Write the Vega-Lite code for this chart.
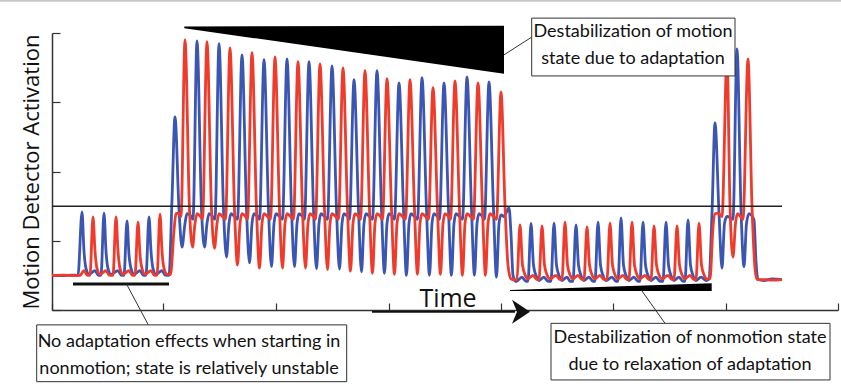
{
  "$schema": "https://vega.github.io/schema/vega-lite/v6.json",
  "width": 786,
  "height": 277,
  "autosize": {"type": "none"},
  "padding": {"left": 52, "top": 33, "right": 3, "bottom": 74},
  "background": "white",
  "config": {"view": {"stroke": null}},
  "datasets": {
    "blue": [
      {"t":0,"v":1.0},{"t":10,"v":0.99},{"t":20,"v":1.01},{"t":26,"v":1.0},{"t":30,"v":2.83},{"t":32,"v":1.7},{"t":34,"v":1.2},{"t":37,"v":1.03},{"t":43,"v":1.14},{"t":46,"v":1.01},{"t":49,"v":1.0},
      {"t":52,"v":2.80},{"t":54,"v":1.7},{"t":56,"v":1.2},{"t":59,"v":1.03},{"t":66,"v":1.14},{"t":69,"v":1.01},{"t":72,"v":1.0},
      {"t":75,"v":2.57},{"t":77,"v":1.6},{"t":79,"v":1.2},{"t":82,"v":1.03},{"t":88,"v":1.14},{"t":91,"v":1.01},{"t":94,"v":1.0},
      {"t":97,"v":2.69},{"t":99,"v":1.7},{"t":101,"v":1.2},{"t":104,"v":1.03},{"t":110,"v":1.14},{"t":113,"v":1.01},{"t":117,"v":1.0},
      {"t":120,"v":3.2},{"t":123,"v":5.58},{"t":127,"v":2.9},{"t":130,"v":1.82},{"t":133,"v":2.5},{"t":135,"v":2.78},{"t":138,"v":2.75},{"t":141,"v":2.62},
      {"t":145,"v":7.77},{"t":149.5,"v":2.9},{"t":152.5,"v":1.82},{"t":155,"v":2.5},{"t":157,"v":2.78},{"t":160,"v":2.72},{"t":163,"v":2.62},
      {"t":167,"v":7.69},{"t":171.5,"v":2.9},{"t":174.5,"v":1.53},{"t":177,"v":2.5},{"t":179,"v":2.78},{"t":182,"v":2.72},{"t":185.5,"v":2.62},
      {"t":190,"v":7.37},{"t":194.5,"v":2.9},{"t":197.5,"v":1.36},{"t":200,"v":2.5},{"t":202,"v":2.78},{"t":205,"v":2.72},{"t":207.5,"v":2.62},
      {"t":212,"v":7.23},{"t":216.5,"v":2.9},{"t":219.5,"v":1.25},{"t":222,"v":2.5},{"t":224,"v":2.78},{"t":227,"v":2.72},{"t":230.5,"v":2.62},
      {"t":235,"v":7.25},{"t":239.5,"v":2.9},{"t":242.5,"v":1.25},{"t":245,"v":2.5},{"t":247,"v":2.78},{"t":250,"v":2.72},{"t":252.5,"v":2.62},
      {"t":257,"v":7.17},{"t":261.5,"v":2.9},{"t":264.5,"v":1.19},{"t":267,"v":2.5},{"t":269,"v":2.78},{"t":272,"v":2.72},{"t":275.5,"v":2.62},
      {"t":280,"v":7.05},{"t":284.5,"v":2.9},{"t":287.5,"v":1.18},{"t":290,"v":2.5},{"t":292,"v":2.78},{"t":295,"v":2.72},{"t":297.5,"v":2.62},
      {"t":302,"v":6.65},{"t":306.5,"v":2.9},{"t":309.5,"v":1.10},{"t":312,"v":2.5},{"t":314,"v":2.78},{"t":317,"v":2.72},{"t":320.5,"v":2.62},
      {"t":325,"v":6.91},{"t":329.5,"v":2.9},{"t":332.5,"v":1.06},{"t":335,"v":2.5},{"t":337,"v":2.78},{"t":340,"v":2.72},{"t":342.5,"v":2.62},
      {"t":347,"v":6.56},{"t":351.5,"v":2.9},{"t":354.5,"v":1.0},{"t":357,"v":2.5},{"t":359,"v":2.78},{"t":362,"v":2.72},{"t":365.5,"v":2.62},
      {"t":370,"v":6.71},{"t":374.5,"v":2.9},{"t":377.5,"v":1.0},{"t":380,"v":2.5},{"t":382,"v":2.78},{"t":385,"v":2.72},{"t":387.5,"v":2.62},
      {"t":392,"v":6.56},{"t":396.5,"v":2.9},{"t":399.5,"v":1.0},{"t":402,"v":2.5},{"t":404,"v":2.78},{"t":407,"v":2.72},{"t":410.5,"v":2.62},
      {"t":415,"v":6.73},{"t":419.5,"v":2.9},{"t":422.5,"v":1.0},{"t":425,"v":2.5},{"t":427,"v":2.78},{"t":430,"v":2.72},{"t":432.5,"v":2.62},
      {"t":437,"v":6.59},{"t":441.5,"v":2.9},{"t":444.5,"v":0.95},{"t":447,"v":2.5},{"t":449,"v":2.75},{"t":452,"v":2.7},{"t":454,"v":2.8},{"t":457,"v":2.95},{"t":459,"v":2.2},{"t":461,"v":1.0},{"t":464,"v":0.82},
      {"t":470,"v":0.95},{"t":474,"v":0.83},{"t":476,"v":0.83},{"t":479,"v":2.5},{"t":481.5,"v":1.3},{"t":484,"v":1.0},{"t":487,"v":0.85},{"t":492,"v":0.95},{"t":496,"v":0.83},
      {"t":499,"v":0.83},{"t":502,"v":2.51},{"t":504.5,"v":1.3},{"t":507,"v":1.0},{"t":510,"v":0.85},{"t":515,"v":0.95},{"t":518,"v":0.83},
      {"t":521,"v":0.83},{"t":524,"v":2.46},{"t":526.5,"v":1.3},{"t":529,"v":1.0},{"t":532,"v":0.85},{"t":537,"v":0.95},{"t":541,"v":0.83},
      {"t":543,"v":0.83},{"t":546,"v":2.54},{"t":548.5,"v":1.3},{"t":551,"v":1.0},{"t":554,"v":0.85},{"t":560,"v":0.95},{"t":564,"v":0.83},
      {"t":566,"v":0.83},{"t":569,"v":2.66},{"t":571.5,"v":1.3},{"t":574,"v":1.0},{"t":577,"v":0.85},{"t":582,"v":0.95},{"t":586,"v":0.83},
      {"t":588,"v":0.83},{"t":591,"v":2.54},{"t":593.5,"v":1.3},{"t":596,"v":1.0},{"t":599,"v":0.85},{"t":604,"v":0.95},{"t":608,"v":0.83},
      {"t":611,"v":0.83},{"t":614,"v":2.54},{"t":616.5,"v":1.3},{"t":619,"v":1.0},{"t":622,"v":0.85},{"t":627,"v":0.95},{"t":631,"v":0.83},
      {"t":633,"v":0.83},{"t":636,"v":2.60},{"t":638.5,"v":1.3},{"t":641,"v":1.0},{"t":644,"v":0.85},{"t":649,"v":0.95},{"t":654,"v":0.85},
      {"t":657,"v":0.9},{"t":660,"v":2.8},{"t":663,"v":5.40},{"t":667,"v":2.8},{"t":670,"v":1.21},{"t":672.5,"v":2.5},{"t":675,"v":2.7},{"t":679,"v":2.65},{"t":681,"v":2.62},
      {"t":685,"v":7.54},{"t":689,"v":2.9},{"t":692,"v":1.25},{"t":694.5,"v":2.5},{"t":697,"v":2.78},{"t":700,"v":2.72},{"t":702,"v":2.6},{"t":704,"v":1.4},{"t":706,"v":0.88},
      {"t":712,"v":0.85},{"t":720,"v":0.9},{"t":730,"v":0.88}
    ],
    "red": [
      {"t":0,"v":1.0},{"t":12,"v":1.01},{"t":22,"v":0.99},{"t":28,"v":1.0},{"t":32,"v":1.14},{"t":35,"v":1.01},{"t":38,"v":1.0},
      {"t":41,"v":2.69},{"t":43,"v":1.7},{"t":45,"v":1.2},{"t":48,"v":1.03},{"t":54,"v":1.14},{"t":57,"v":1.01},{"t":61,"v":1.0},
      {"t":64,"v":2.69},{"t":66,"v":1.7},{"t":68,"v":1.2},{"t":71,"v":1.03},{"t":77,"v":1.14},{"t":80,"v":1.01},{"t":83,"v":1.0},
      {"t":86,"v":2.54},{"t":88,"v":1.6},{"t":90,"v":1.2},{"t":93,"v":1.03},{"t":99,"v":1.14},{"t":102,"v":1.01},{"t":105,"v":1.0},
      {"t":108,"v":2.77},{"t":110,"v":1.7},{"t":112,"v":1.2},{"t":115,"v":1.03},{"t":118,"v":1.02},
      {"t":119,"v":1.1},{"t":122,"v":2.3},{"t":124,"v":2.78},{"t":126,"v":2.8},{"t":129,"v":2.7},
      {"t":133,"v":7.80},{"t":137.5,"v":2.9},{"t":140.5,"v":1.82},{"t":143,"v":2.5},{"t":145,"v":2.78},{"t":148,"v":2.72},{"t":150.5,"v":2.62},
      {"t":155,"v":7.75},{"t":159.5,"v":2.9},{"t":162.5,"v":1.78},{"t":165,"v":2.5},{"t":167,"v":2.78},{"t":170,"v":2.72},{"t":173.5,"v":2.62},
      {"t":178,"v":7.57},{"t":182.5,"v":2.9},{"t":185.5,"v":1.30},{"t":188,"v":2.5},{"t":190,"v":2.78},{"t":193,"v":2.72},{"t":195.5,"v":2.62},
      {"t":200,"v":7.43},{"t":204.5,"v":2.9},{"t":207.5,"v":1.21},{"t":210,"v":2.5},{"t":212,"v":2.78},{"t":215,"v":2.72},{"t":218.5,"v":2.62},
      {"t":223,"v":7.31},{"t":227.5,"v":2.9},{"t":230.5,"v":1.21},{"t":233,"v":2.5},{"t":235,"v":2.78},{"t":238,"v":2.72},{"t":241.5,"v":2.62},
      {"t":246,"v":7.17},{"t":250.5,"v":2.9},{"t":253.5,"v":1.21},{"t":256,"v":2.5},{"t":258,"v":2.78},{"t":261,"v":2.72},{"t":263.5,"v":2.62},
      {"t":268,"v":7.11},{"t":272.5,"v":2.9},{"t":275.5,"v":1.17},{"t":278,"v":2.5},{"t":280,"v":2.78},{"t":283,"v":2.72},{"t":286.5,"v":2.62},
      {"t":291,"v":6.99},{"t":295.5,"v":2.9},{"t":298.5,"v":1.12},{"t":301,"v":2.5},{"t":303,"v":2.78},{"t":306,"v":2.72},{"t":308.5,"v":2.62},
      {"t":313,"v":6.91},{"t":317.5,"v":2.9},{"t":320.5,"v":1.06},{"t":323,"v":2.5},{"t":325,"v":2.78},{"t":328,"v":2.72},{"t":330.5,"v":2.62},
      {"t":335,"v":6.68},{"t":339.5,"v":2.9},{"t":342.5,"v":1.03},{"t":345,"v":2.5},{"t":347,"v":2.78},{"t":350,"v":2.72},{"t":353.5,"v":2.62},
      {"t":358,"v":6.65},{"t":362.5,"v":2.9},{"t":365.5,"v":1.03},{"t":368,"v":2.5},{"t":370,"v":2.78},{"t":373,"v":2.72},{"t":376.5,"v":2.62},
      {"t":381,"v":6.42},{"t":385.5,"v":2.9},{"t":388.5,"v":1.03},{"t":391,"v":2.5},{"t":393,"v":2.78},{"t":396,"v":2.72},{"t":398.5,"v":2.62},
      {"t":403,"v":6.62},{"t":407.5,"v":2.9},{"t":410.5,"v":1.0},{"t":413,"v":2.5},{"t":415,"v":2.78},{"t":418,"v":2.72},{"t":421.5,"v":2.62},
      {"t":426,"v":6.56},{"t":430.5,"v":2.9},{"t":433.5,"v":1.0},{"t":436,"v":2.5},{"t":438,"v":2.78},{"t":441,"v":2.72},{"t":444.5,"v":2.62},
      {"t":449,"v":6.30},{"t":453,"v":3.0},{"t":456,"v":1.3},{"t":459,"v":0.9},{"t":462,"v":0.87},
      {"t":465,"v":0.88},{"t":468,"v":2.46},{"t":470.5,"v":1.3},{"t":473,"v":1.02},{"t":476,"v":0.9},{"t":481,"v":1.0},{"t":485,"v":0.88},
      {"t":487,"v":0.88},{"t":490,"v":2.43},{"t":492.5,"v":1.3},{"t":495,"v":1.02},{"t":498,"v":0.9},{"t":504,"v":1.0},{"t":508,"v":0.88},
      {"t":510,"v":0.88},{"t":513,"v":2.54},{"t":515.5,"v":1.3},{"t":518,"v":1.02},{"t":521,"v":0.9},{"t":526,"v":1.0},{"t":530,"v":0.88},
      {"t":532,"v":0.88},{"t":535,"v":2.40},{"t":537.5,"v":1.3},{"t":540,"v":1.02},{"t":543,"v":0.9},{"t":548,"v":1.0},{"t":552,"v":0.88},
      {"t":555,"v":0.88},{"t":558,"v":2.51},{"t":560.5,"v":1.3},{"t":563,"v":1.02},{"t":566,"v":0.9},{"t":571,"v":1.0},{"t":575,"v":0.88},
      {"t":577,"v":0.88},{"t":580,"v":2.54},{"t":582.5,"v":1.3},{"t":585,"v":1.02},{"t":588,"v":0.9},{"t":593,"v":1.0},{"t":597,"v":0.88},
      {"t":599,"v":0.88},{"t":602,"v":2.43},{"t":604.5,"v":1.3},{"t":607,"v":1.02},{"t":610,"v":0.9},{"t":616,"v":1.0},{"t":620,"v":0.88},
      {"t":622,"v":0.88},{"t":625,"v":2.43},{"t":627.5,"v":1.3},{"t":630,"v":1.02},{"t":633,"v":0.9},{"t":638,"v":1.0},{"t":642,"v":0.88},
      {"t":644,"v":0.88},{"t":647,"v":2.51},{"t":649.5,"v":1.3},{"t":652,"v":1.02},{"t":655,"v":0.9},
      {"t":658,"v":0.9},{"t":661,"v":2.4},{"t":663,"v":2.78},{"t":666,"v":2.8},{"t":670,"v":2.7},
      {"t":675,"v":7.3},{"t":678,"v":3.0},{"t":681,"v":1.53},{"t":683.5,"v":2.5},{"t":685.5,"v":2.78},{"t":688,"v":2.72},{"t":691,"v":2.62},
      {"t":696,"v":7.25},{"t":700,"v":3.0},{"t":703,"v":1.2},{"t":705,"v":0.88},{"t":712,"v":0.88},{"t":720,"v":0.86},{"t":730,"v":0.88}
    ],
    "boxes": [
      {"t":-15.3,"t2":294.7,"v":-0.43,"v2":-2.07},
      {"t":499,"t2":778,"v":-0.385,"v2":-2.02},
      {"t":479.7,"t2":683,"v":8.43,"v2":6.76}
    ],
    "notes": [
      {"t":137,"v":-1.07,"label":"No adaptation effects when starting in\nnonmotion; state is relatively unstable"},
      {"t":638,"v":-0.95,"label":"Destabilization of nonmotion state\ndue to relaxation of adaptation"},
      {"t":581,"v":7.89,"label":"Destabilization of motion\nstate due to adaptation"}
    ],
    "connectors": [
      {"t":452,"t2":479.7,"v":7.37,"v2":7.88},
      {"t":589.7,"t2":613,"v":0.56,"v2":-0.385},
      {"t":74.7,"t2":96.3,"v":0.74,"v2":-0.43}
    ],
    "topWedge": [
      {"t":132.3,"v":8.14,"v2":8.19},
      {"t":452,"v":6.82,"v2":8.21}
    ],
    "bottomWedge": [
      {"t":458,"v":0.58,"v2":0.55},
      {"t":659.7,"v":0.77,"v2":0.55}
    ]
  },
  "layer": [
    {
      "data": {"name": "blue"},
      "mark": {"type": "line", "color": "#3b55b3", "strokeWidth": 2.8, "interpolate": "monotone"},
      "encoding": {
        "x": {"field": "t", "type": "quantitative", "scale": {"domain": [0, 786], "nice": false, "zero": false},
          "axis": {"values": [0, 111, 224, 337, 449, 561, 674, 786], "labels": false, "tickSize": -7, "domainColor": "#333", "tickColor": "#333", "domainWidth": 1.5, "tickWidth": 1.2, "grid": false, "title": null}},
        "y": {"field": "v", "type": "quantitative", "scale": {"domain": [0, 8], "nice": false},
          "axis": {"values": [0, 1, 2, 3, 4, 5, 6, 7, 8], "labels": false, "tickSize": -8, "domainColor": "#333", "tickColor": "#333", "domainWidth": 1.5, "tickWidth": 1.2, "grid": false,
            "title": "Motion Detector Activation", "titleFont": "Open Sans", "titleFontSize": 22, "titleFontWeight": "normal", "titleColor": "#111", "titleX": -13.5, "titleY": 138.5, "titleBaseline": "alphabetic", "titleAngle": -90, "titleAlign": "center"}}
      }
    },
    {
      "data": {"name": "red"},
      "mark": {"type": "line", "color": "#ef3b2c", "strokeWidth": 2.8, "interpolate": "monotone"},
      "encoding": {"x": {"field": "t", "type": "quantitative"}, "y": {"field": "v", "type": "quantitative"}}
    },
    {
      "data": {"values": [{"t": 0, "t2": 730, "v": 3}]},
      "mark": {"type": "rule", "color": "#222", "strokeWidth": 1.5},
      "encoding": {"x": {"field": "t", "type": "quantitative"}, "x2": {"field": "t2"}, "y": {"field": "v", "type": "quantitative"}}
    },
    {
      "data": {"values": [{"t": -52, "t2": 789, "v": 8.93}]},
      "mark": {"type": "rule", "color": "#c8c8c8", "strokeWidth": 2},
      "encoding": {"x": {"field": "t", "type": "quantitative"}, "x2": {"field": "t2"}, "y": {"field": "v", "type": "quantitative"}}
    },
    {
      "data": {"name": "topWedge"},
      "mark": {"type": "area", "color": "#000", "opacity": 1},
      "encoding": {"x": {"field": "t", "type": "quantitative"}, "y": {"field": "v", "type": "quantitative"}, "y2": {"field": "v2"}}
    },
    {
      "data": {"name": "bottomWedge"},
      "mark": {"type": "area", "color": "#000", "opacity": 1},
      "encoding": {"x": {"field": "t", "type": "quantitative"}, "y": {"field": "v", "type": "quantitative"}, "y2": {"field": "v2"}}
    },
    {
      "data": {"values": [{"t": 21, "t2": 117, "v": 0.75}]},
      "mark": {"type": "rule", "color": "#111", "strokeWidth": 3},
      "encoding": {"x": {"field": "t", "type": "quantitative"}, "x2": {"field": "t2"}, "y": {"field": "v", "type": "quantitative"}}
    },
    {
      "data": {"name": "connectors"},
      "mark": {"type": "rule", "color": "#333", "strokeWidth": 1},
      "encoding": {"x": {"field": "t", "type": "quantitative"}, "x2": {"field": "t2"}, "y": {"field": "v", "type": "quantitative"}, "y2": {"field": "v2"}}
    },
    {
      "data": {"values": [{"t": 320, "t2": 463, "v": -0.05}]},
      "mark": {"type": "rule", "color": "#111", "strokeWidth": 2},
      "encoding": {"x": {"field": "t", "type": "quantitative"}, "x2": {"field": "t2"}, "y": {"field": "v", "type": "quantitative"}}
    },
    {
      "data": {"values": [{"t": 469, "v": -0.05}]},
      "mark": {"type": "point", "shape": "M-0.75,-1L0.75,0L-0.75,1L-0.33,0Z", "size": 576, "filled": true, "color": "#111", "opacity": 1, "strokeWidth": 0},
      "encoding": {"x": {"field": "t", "type": "quantitative"}, "y": {"field": "v", "type": "quantitative"}}
    },
    {
      "data": {"values": [{"t": 396, "v": 0.095, "label": "Time"}]},
      "mark": {"type": "text", "font": "Open Sans", "fontSize": 25, "color": "#111", "align": "center", "baseline": "alphabetic"},
      "encoding": {"x": {"field": "t", "type": "quantitative"}, "y": {"field": "v", "type": "quantitative"}, "text": {"field": "label"}}
    },
    {
      "data": {"name": "boxes"},
      "mark": {"type": "rect", "color": "#555", "opacity": 0.35, "xOffset": 2, "yOffset": 2},
      "encoding": {"x": {"field": "t", "type": "quantitative"}, "x2": {"field": "t2"}, "y": {"field": "v", "type": "quantitative"}, "y2": {"field": "v2"}}
    },
    {
      "data": {"name": "boxes"},
      "mark": {"type": "rect", "color": "#555", "opacity": 0.3, "xOffset": 4, "yOffset": 4},
      "encoding": {"x": {"field": "t", "type": "quantitative"}, "x2": {"field": "t2"}, "y": {"field": "v", "type": "quantitative"}, "y2": {"field": "v2"}}
    },
    {
      "data": {"name": "boxes"},
      "mark": {"type": "rect", "fill": "white", "stroke": "#333", "strokeWidth": 1, "opacity": 1},
      "encoding": {"x": {"field": "t", "type": "quantitative"}, "x2": {"field": "t2"}, "y": {"field": "v", "type": "quantitative"}, "y2": {"field": "v2"}}
    },
    {
      "data": {"name": "notes"},
      "mark": {"type": "text", "font": "Lato", "fontSize": 18, "color": "#111", "align": "center", "baseline": "alphabetic", "lineBreak": "\n", "lineHeight": 27},
      "encoding": {"x": {"field": "t", "type": "quantitative"}, "y": {"field": "v", "type": "quantitative"}, "text": {"field": "label"}}
    }
  ]
}
